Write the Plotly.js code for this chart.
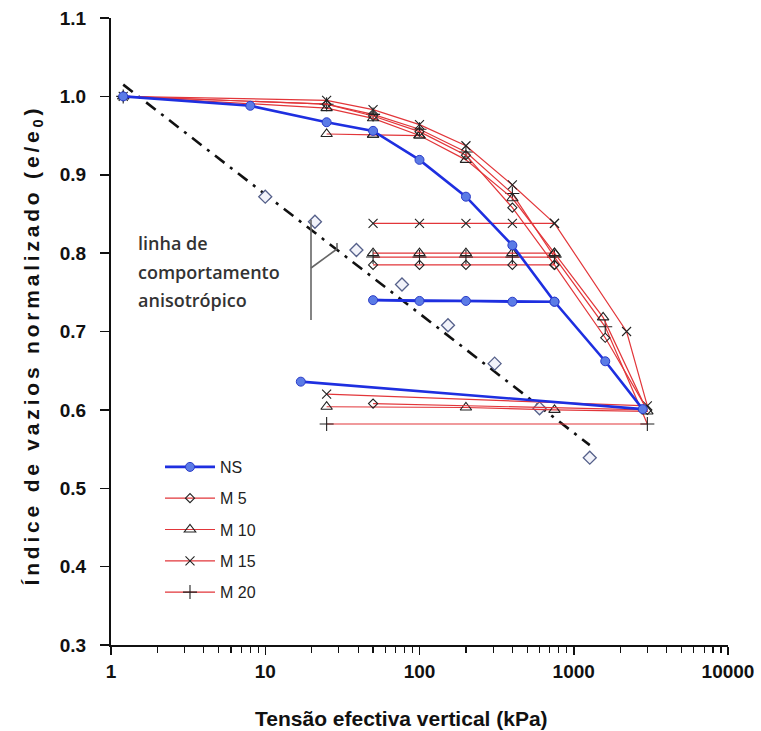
<!DOCTYPE html>
<html>
<head>
<meta charset="utf-8">
<script src="https://cdn.plot.ly/plotly-3.0.1.min.js"></script>
<style>
html,body{margin:0;padding:0;background:#fff;}
#chart{width:761px;height:731px;}
g.annotation[data-index="4"] text{letter-spacing:3.8px;}
</style>
</head>
<body>
<div id="chart"></div>
<script>
// ---- data ----
const nsX  = [1.2, 8, 25, 50, 100, 200, 400, 750, 400, 200, 100, 50, 750, 1600, 2800, 17];
const nsY  = [1.0, 0.988, 0.967, 0.956, 0.919, 0.872, 0.81, 0.738, 0.738, 0.739, 0.739, 0.740, 0.738, 0.662, 0.601, 0.636];

const m5X  = [1.2, 25, 50, 100, 200, 400, 750, 400, 200, 100, 50, 750, 1600, 3000, 50];
const m5Y  = [1.0, 0.99, 0.975, 0.955, 0.925, 0.858, 0.785, 0.785, 0.785, 0.785, 0.785, 0.785, 0.692, 0.6, 0.608];

const m10X = [1.2, 25, 50, 100, 50, 25, 50, 100, 200, 400, 750, 400, 200, 100, 50, 750, 1550, 3000, 750, 200, 25];
const m10Y = [1.0, 0.985, 0.972, 0.95, 0.951, 0.952, 0.951, 0.95, 0.919, 0.870, 0.800, 0.800, 0.800, 0.800, 0.800, 0.800, 0.718, 0.598, 0.600, 0.603, 0.604];

const m15X = [1.2, 25, 50, 100, 200, 400, 750, 400, 200, 100, 50, 750, 2200, 3000, 25];
const m15Y = [1.0, 0.995, 0.983, 0.964, 0.937, 0.887, 0.838, 0.838, 0.838, 0.838, 0.838, 0.838, 0.70, 0.605, 0.62];

const m20X = [1.2, 25, 50, 100, 200, 400, 750, 400, 200, 100, 50, 750, 1600, 3000, 25];
const m20Y = [1.0, 0.99, 0.977, 0.958, 0.929, 0.876, 0.795, 0.795, 0.795, 0.795, 0.795, 0.795, 0.706, 0.582, 0.582];

const anisoLineX = [1.2, 1270];
const anisoLineY = [1.015, 0.555];
const anisoPtsX  = [10, 21, 39, 77, 153, 307, 600, 1270];
const anisoPtsY  = [0.872, 0.84, 0.804, 0.76, 0.708, 0.659, 0.602, 0.539];

const seriesNames = ['NS', 'M 5', 'M 10', 'M 15', 'M 20'];
const annotationLines = ['linha de', 'comportamento', 'anisotrópico'];
const xTitle = 'Tensão efectiva vertical (kPa)';
const yTitle = 'Índice de vazios normalizado (e/e<sub>0</sub>)';
const xTickVals = [1, 10, 100, 1000, 10000];
const xTickText = ['1', '10', '100', '1000', '10000'];
const xMinorVals = [2,3,4,5,6,7,8,9,20,30,40,50,60,70,80,90,200,300,400,500,600,700,800,900,2000,3000,4000,5000,6000,7000,8000,9000];

// ---- styles ----
const RED = '#e2363a';
const redTrace = (x, y, name, symbol, size, rank) => ({
  x, y, name, type: 'scatter', mode: 'lines+markers',
  legendgroup: name, legendrank: rank,
  line: {color: RED, width: 1.2},
  marker: {symbol, size, color: '#222', line: {color: '#222', width: 1.1}}
});

const traces = [
  {x: anisoLineX, y: anisoLineY, type: 'scatter', mode: 'lines', showlegend: false,
   line: {color: '#111', width: 2.6, dash: '12px,7px,3px,7px'}},
  {x: anisoPtsX, y: anisoPtsY, type: 'scatter', mode: 'markers', showlegend: false,
   marker: {symbol: 'diamond', size: 10, color: '#f2f3fa', line: {color: '#55608a', width: 1.3}}},
  redTrace(m20X, m20Y, seriesNames[4], 'cross-thin-open', 10, 5),
  redTrace(m15X, m15Y, seriesNames[3], 'x-thin-open', 9, 4),
  redTrace(m10X, m10Y, seriesNames[2], 'triangle-up-open', 10, 3),
  redTrace(m5X, m5Y, seriesNames[1], 'diamond-open', 7, 2),
  {x: nsX, y: nsY, name: seriesNames[0], type: 'scatter', mode: 'lines+markers',
   legendgroup: 'NS', legendrank: 1,
   line: {color: '#1e2fe0', width: 2.6},
   marker: {symbol: 'circle', size: 9, color: '#5b7be6', line: {color: '#2a3cc8', width: 1}}}
];

const px2x = p => (p - 111) / 617;
const py2y = p => (645 - p) / 627;

const annotations = annotationLines.map((t, i) => ({
  xref: 'paper', yref: 'paper', x: px2x(136), y: py2y(243 + i * 28.5),
  xanchor: 'left', yanchor: 'middle', showarrow: false, text: t,
  font: {family: 'Open Sans, sans-serif', size: 18, color: '#333', weight: 600}
}));
annotations.push({
  xref: 'paper', yref: 'paper', x: px2x(401), y: py2y(718), xanchor: 'center', yanchor: 'middle',
  showarrow: false, text: xTitle,
  font: {family: 'Liberation Sans, Arial, sans-serif', size: 21, color: '#111', weight: 'bold'}
});
annotations.push({
  xref: 'paper', yref: 'paper', x: px2x(33), y: py2y(345), xanchor: 'center', yanchor: 'middle',
  textangle: -90, showarrow: false, text: yTitle,
  font: {family: 'Liberation Sans, Arial, sans-serif', size: 21, color: '#111', weight: 'bold'}
});

const bracketColor = '#666';
const shapes = [
  {type: 'line', xref: 'paper', yref: 'paper', x0: px2x(311), x1: px2x(311), y0: py2y(220), y1: py2y(320), line: {color: bracketColor, width: 1.6}},
  {type: 'line', xref: 'paper', yref: 'paper', x0: px2x(311), x1: px2x(337), y0: py2y(268), y1: py2y(249), line: {color: bracketColor, width: 1.6}},
  {type: 'line', xref: 'paper', yref: 'paper', x0: px2x(337), x1: px2x(337), y0: py2y(249), y1: py2y(243), line: {color: bracketColor, width: 1.6}}
];

const tickFont = {family: 'Liberation Sans, Arial, sans-serif', size: 19, color: '#111', weight: 'bold'};

const layout = {
  width: 761, height: 731,
  margin: {l: 111, r: 33, t: 18, b: 86},
  paper_bgcolor: '#fff', plot_bgcolor: '#fff',
  showlegend: true,
  legend: {x: px2x(160), y: py2y(450), xanchor: 'left', yanchor: 'top',
           bgcolor: 'rgba(0,0,0,0)', font: {family: 'Liberation Sans, Arial, sans-serif', size: 16, color: '#222'},
           tracegroupgap: 7.5, itemwidth: 50, traceorder: 'grouped'},
  xaxis: {type: 'log', range: [0, 4], tickvals: xTickVals, ticktext: xTickText,
          showgrid: false, zeroline: false, showline: true, linecolor: '#111', linewidth: 2,
          ticks: 'outside', ticklen: 8, tickwidth: 1.5, tickcolor: '#111', tickfont: tickFont,
          minor: {tickvals: xMinorVals, ticks: 'outside', ticklen: 6, tickwidth: 1.2, tickcolor: '#111', showgrid: false}},
  yaxis: {range: [0.3, 1.1], dtick: 0.1, tick0: 0.3, tickformat: '.1f',
          showgrid: false, zeroline: false, showline: true, linecolor: '#111', linewidth: 2,
          ticks: 'outside', ticklen: 9, tickwidth: 1.5, tickcolor: '#111', tickfont: tickFont,
          ticklabelstandoff: 10},
  annotations, shapes
};

Plotly.newPlot('chart', traces, layout, {displayModeBar: false, staticPlot: true});
</script>
</body>
</html>
